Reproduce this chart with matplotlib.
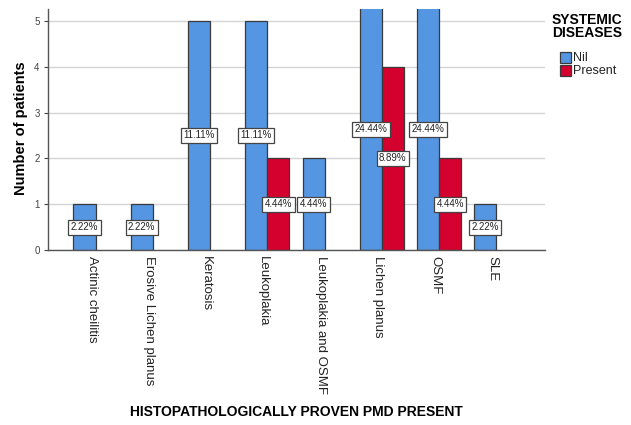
import numpy as np
import matplotlib
matplotlib.use("Agg")
import matplotlib.pyplot as plt
import matplotlib.transforms as mtransforms
from matplotlib.patches import Rectangle

plt.rcParams["font.family"] = ["Liberation Sans", "DejaVu Sans"]

categories = ["Actinic cheilitis", "Erosive Lichen planus", "Keratosis", "Leukoplakia",
              "Leukoplakia and OSMF", "Lichen planus", "OSMF", "SLE"]
nil_counts = [1, 1, 5, 5, 2, 11, 11, 1]
present_counts = [0, 0, 0, 2, 0, 4, 2, 0]
nil_labels = ["2.22%", "2.22%", "11.11%", "11.11%", "4.44%", "24.44%", "24.44%", "2.22%"]
present_labels = ["", "", "", "4.44%", "", "8.89%", "4.44%", ""]
y_ticks = [0, 1, 2, 3, 4, 5]
series_names = ["Nil", "Present"]

blue = "#5596E2"
red = "#D4002E"
edge = "#3a3a3a"

W, H = 631, 425
fig = plt.figure(figsize=(W / 100, H / 100), dpi=100)
ax = fig.add_axes([48 / W, 1 - 250 / H, (545 - 48) / W, (250 - 9) / H])

x = np.arange(len(categories))
w = 0.385
ymax = 5.26
ax.set_ylim(0, ymax)
ax.set_xlim(-0.83, 7.85)

for s in ["top", "right"]:
    ax.spines[s].set_visible(False)
for s in ["left", "bottom"]:
    ax.spines[s].set_color("#555555")
    ax.spines[s].set_linewidth(1.0)

ax.set_yticks(y_ticks)
ax.yaxis.grid(True, color="#d4d4d4", linewidth=1.0)
ax.set_axisbelow(True)
ax.tick_params(axis="y", labelsize=7, colors="#444444", length=3, pad=3)
ax.tick_params(axis="x", length=0, pad=4)

box = dict(boxstyle="square,pad=0.25", facecolor="white", edgecolor="#444444", linewidth=0.9)

for i in range(len(categories)):
    if nil_counts[i] > 0:
        ax.bar(x[i] - w / 2, nil_counts[i], width=w, color=blue, edgecolor=edge, linewidth=0.9)
        h = min(nil_counts[i], ymax)
        ax.text(x[i] - w / 2, h / 2, nil_labels[i], ha="center", va="center",
                fontsize=7, color="#222222", bbox=box, zorder=5)
    if present_counts[i] > 0:
        ax.bar(x[i] + w / 2, present_counts[i], width=w, color=red, edgecolor=edge, linewidth=0.9)
        h = min(present_counts[i], ymax)
        ax.text(x[i] + w / 2, h / 2, present_labels[i], ha="center", va="center",
                fontsize=7, color="#222222", bbox=box, zorder=5)

ax.set_xticks(x)
ax.set_xticklabels(categories, rotation=270, fontsize=9.5, color="#222222", va="top", ha="center")
offset = mtransforms.ScaledTranslation(-4 / 100, 0, fig.dpi_scale_trans)
for lbl in ax.get_xticklabels():
    lbl.set_transform(lbl.get_transform() + offset)

fig.text(21 / W, 1 - 128 / H, "Number of patients", rotation=90, ha="center", va="center",
         fontsize=10.5, fontweight="bold")
fig.text(296 / W, 1 - 412 / H, "HISTOPATHOLOGICALLY PROVEN PMD PRESENT", ha="center", va="center",
         fontsize=10, fontweight="bold")

# legend
fig.text(552 / W, 1 - 13 / H, "SYSTEMIC\nDISEASES", ha="left", va="top",
         fontsize=10, fontweight="bold", linespacing=0.95)
for name, col, yc in zip(series_names, [blue, red], [57, 70]):
    fig.add_artist(Rectangle((560 / W, 1 - (yc + 5.5) / H), 11 / W, 11 / H,
                             transform=fig.transFigure, facecolor=col, edgecolor=edge, linewidth=0.9))
    fig.text(573 / W, 1 - (yc + 1) / H, name, ha="left", va="center", fontsize=9, color="#222222")

fig.savefig("out.png", dpi=100)
